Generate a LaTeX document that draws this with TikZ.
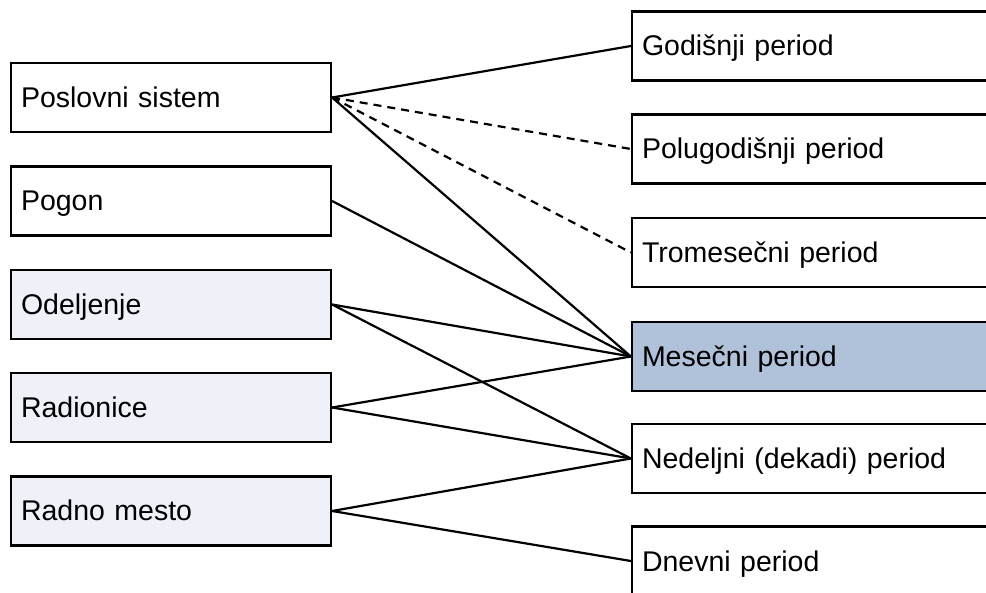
\documentclass[tikz,border=0pt]{standalone}
\usepackage{fontspec}
\setmainfont{Liberation Sans}
\definecolor{lightbox}{HTML}{EEF1F7}
\definecolor{selbox}{HTML}{B0C2DA}
\begin{document}
\begin{tikzpicture}[x=1pt,y=-1pt,
  box/.style={draw=black, line width=2.2pt, rectangle, inner xsep=10pt, inner ysep=0pt,
    minimum height=69pt, text height=20pt, text depth=0pt, align=left,
    font=\fontsize{28.5}{33}\selectfont},
  lbox/.style={box, text width=300pt},
  rbox/.style={box, text width=358pt},
  conn/.style={line width=2.2pt, black},
  dconn/.style={conn, dash pattern=on 8pt off 6pt}]
\clip (0,0) rectangle (986,593);
\fill[white] (0,0) rectangle (986,593);
% left
\node[lbox, fill=white] (ps) at (171,97.5) {Poslovni sistem};
\node[lbox, fill=white] (pg) at (171,201) {Pogon};
\node[lbox, fill=lightbox] (od) at (171,304.5) {Odeljenje};
\node[lbox, fill=lightbox] (ra) at (171,407.5) {Radionice};
\node[lbox, fill=lightbox] (rm) at (171,511) {Radno mesto};
% right
\node[rbox, fill=white] (go) at (821,46) {Godišnji period};
\node[rbox, fill=white] (pl) at (821,149) {Polugodišnji period};
\node[rbox, fill=white] (tr) at (821,252.5) {Tromesečni period};
\node[rbox, fill=selbox] (me) at (821,356.5) {Mesečni period};
\node[rbox, fill=white] (ne) at (821,458.5) {Nedeljni (dekadi) period};
\node[rbox, fill=white] (dn) at (821,561) {Dnevni period};
% connectors
\draw[conn] (ps.east) -- (go.west);
\draw[dconn] (ps.east) -- (pl.west);
\draw[dconn] (ps.east) -- (tr.west);
\draw[conn] (ps.east) -- (me.west);
\draw[conn] (pg.east) -- (me.west);
\draw[conn] (od.east) -- (me.west);
\draw[conn] (od.east) -- (ne.west);
\draw[conn] (ra.east) -- (me.west);
\draw[conn] (ra.east) -- (ne.west);
\draw[conn] (rm.east) -- (ne.west);
\draw[conn] (rm.east) -- (dn.west);
\end{tikzpicture}
\end{document}
